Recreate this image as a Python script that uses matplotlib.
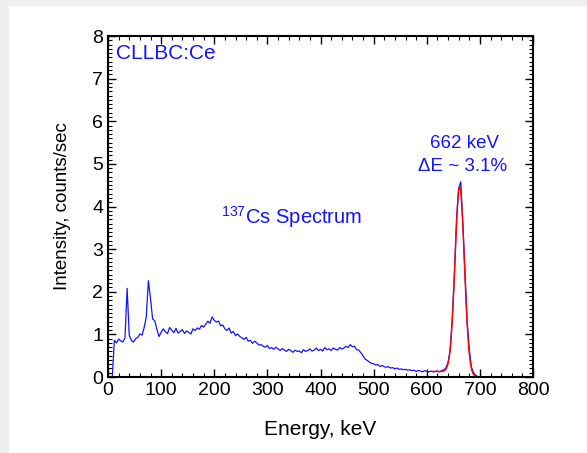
import numpy as np
import matplotlib
matplotlib.use("Agg")
import matplotlib.pyplot as plt
from matplotlib.patches import Rectangle
from matplotlib.ticker import MultipleLocator

plt.rcParams['font.family'] = ['Liberation Sans', 'DejaVu Sans']
plt.rcParams['mathtext.fontset'] = 'custom'
plt.rcParams['mathtext.rm'] = 'Liberation Sans'
plt.rcParams['mathtext.it'] = 'Liberation Sans'

# measured spectrum, channels every 4 keV starting at 8 keV
e_start = 8
e_step = 4
intensity = [
    0.00, 0.86, 0.80, 0.89, 0.85, 0.82, 0.92, 2.08, 0.98, 0.86,
    0.82, 0.90, 0.93, 1.01, 0.98, 1.16, 1.40, 2.26, 1.84, 1.36,
    1.32, 1.12, 0.95, 1.05, 1.13, 1.06, 1.02, 1.16, 1.10, 1.04,
    1.14, 1.03, 1.07, 1.11, 1.02, 1.08, 1.05, 1.01, 1.13, 1.09,
    1.15, 1.12, 1.21, 1.17, 1.24, 1.31, 1.26, 1.41, 1.33, 1.29,
    1.31, 1.20, 1.22, 1.13, 1.09, 1.15, 1.03, 1.07, 0.97, 1.01,
    0.95, 0.92, 0.88, 0.93, 0.84, 0.86, 0.79, 0.84, 0.80, 0.75,
    0.76, 0.72, 0.70, 0.74, 0.67, 0.69, 0.65, 0.70, 0.66, 0.62,
    0.67, 0.63, 0.60, 0.65, 0.62, 0.58, 0.63, 0.60, 0.61, 0.57,
    0.64, 0.60, 0.62, 0.66, 0.61, 0.63, 0.68, 0.62, 0.65, 0.61,
    0.69, 0.64, 0.66, 0.62, 0.68, 0.65, 0.63, 0.69, 0.66, 0.68,
    0.72, 0.69, 0.76, 0.71, 0.72, 0.64, 0.63, 0.57, 0.50, 0.42,
    0.39, 0.35, 0.32, 0.31, 0.28, 0.29, 0.25, 0.27, 0.24, 0.23,
    0.24, 0.21, 0.22, 0.19, 0.21, 0.18, 0.19, 0.17, 0.18, 0.16,
    0.17, 0.15, 0.16, 0.13, 0.15, 0.14, 0.12, 0.15, 0.13, 0.12,
    0.14, 0.12, 0.13, 0.14, 0.12, 0.15, 0.17, 0.21, 0.34, 0.62,
    1.38, 2.40, 3.68, 4.42, 4.58, 3.60, 2.46, 1.32, 0.66, 0.24,
    0.10, 0.04, 0.01, 0.00, 0.00, 0.00, 0.00, 0.00, 0.00, 0.00,
    0.00, 0.00, 0.00, 0.00, 0.00, 0.00, 0.00, 0.00, 0.00, 0.00,
    0.00, 0.00, 0.00, 0.00, 0.00, 0.00, 0.00, 0.00,
]
energy = e_start + e_step * np.arange(len(intensity))

# gaussian fit of the 662 keV photopeak
fit_energy = [612, 616, 620, 624, 628, 632, 634, 636, 638, 640, 642, 644, 646,
              648, 650, 652, 654, 656, 658, 660, 662, 664, 666, 668, 670, 672,
              674, 676, 678, 680, 682, 684, 686, 688, 690, 692, 694, 698, 704]
fit_intensity = [0.13, 0.13, 0.13, 0.13, 0.13, 0.14, 0.155, 0.18, 0.23, 0.31,
                 0.44, 0.64, 0.93, 1.32, 1.81, 2.38, 2.98, 3.56, 4.05, 4.37,
                 4.48, 4.37, 4.02, 3.53, 2.94, 2.33, 1.75, 1.25, 0.85, 0.55,
                 0.34, 0.20, 0.11, 0.06, 0.03, 0.01, 0.00, 0.00, 0.00]

blue = '#1414ff'

fig = plt.figure(figsize=(5.87, 4.53), dpi=100)
fig.patches.append(Rectangle((0, 1 - 5 / 453), 1, 5 / 453, transform=fig.transFigure,
                             color='#efefef', zorder=-1))
fig.patches.append(Rectangle((0, 0), 8 / 587, 1, transform=fig.transFigure,
                             color='#efefef', zorder=-1))
ax = fig.add_axes([108 / 587, 1 - 377 / 453, 425 / 587, 341 / 453])

ax.plot(energy, intensity, color=blue, lw=0.9)
ax.plot(fit_energy, fit_intensity, color='red', lw=1.0)

ax.set_xlim(0, 800)
ax.set_ylim(0, 8)
ax.xaxis.set_major_locator(MultipleLocator(100))
ax.xaxis.set_minor_locator(MultipleLocator(20))
ax.yaxis.set_major_locator(MultipleLocator(1))
ax.yaxis.set_minor_locator(MultipleLocator(0.1))
ax.tick_params(which='both', direction='in', top=True, right=True, labelsize=14)
ax.tick_params(which='major', length=6, width=1)
ax.tick_params(which='minor', length=3, width=0.8)
for s in ax.spines.values():
    s.set_linewidth(1.5)

ax.set_xlabel('Energy, keV', fontsize=15, labelpad=15)
ax.set_ylabel('Intensity, counts/sec', fontsize=13.5, labelpad=15)

ax.text(15, 7.82, 'CLLBC:Ce', color=blue, fontsize=15, ha='left', va='top')
ax.text(213, 3.75, r'$^{137}$Cs Spectrum', color=blue, fontsize=14.5, ha='left', va='center')
ax.text(672, 5.47, '662 keV', color=blue, fontsize=13.5, ha='center', va='center')
ax.text(667, 4.93, '\u0394E ~ 3.1%', color=blue, fontsize=13.5, ha='center', va='center')

fig.savefig('out.png', dpi=100)
